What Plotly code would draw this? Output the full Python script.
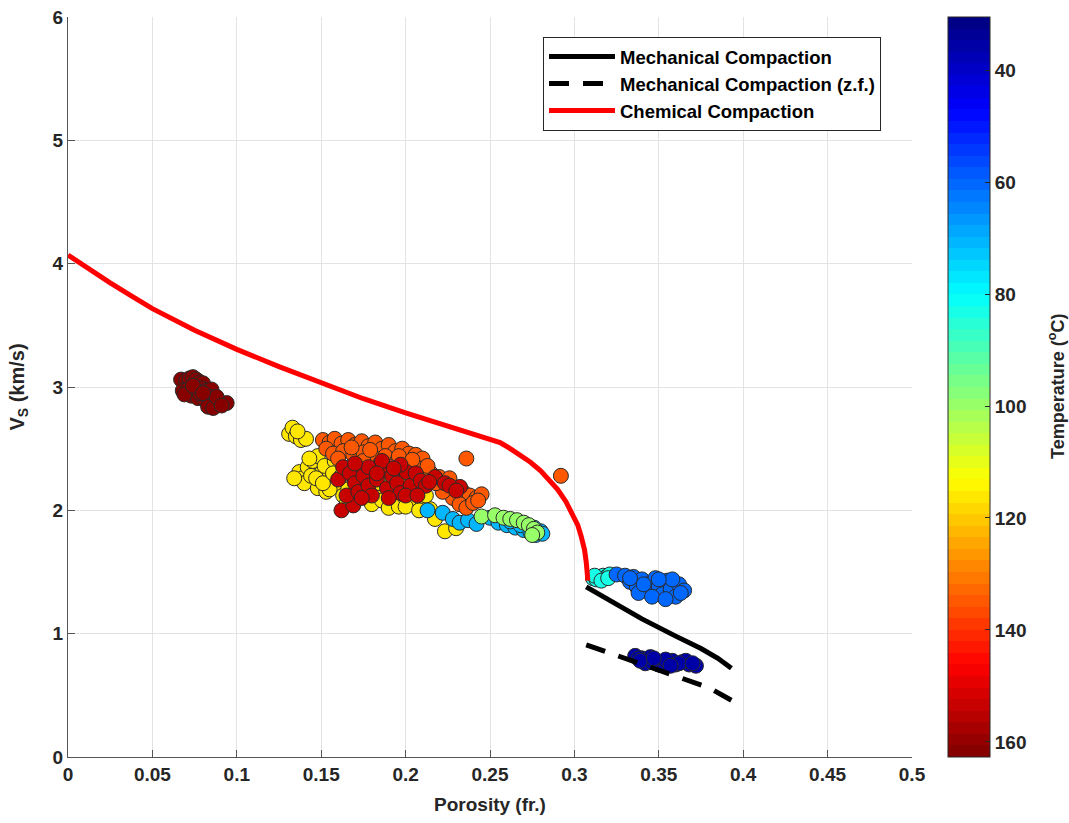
import plotly.graph_objects as go

# ---------------- compaction trends ----------------
chem_phi = [0.000, 0.0125, 0.025, 0.0375, 0.050, 0.075, 0.100, 0.125, 0.150, 0.175, 0.200, 0.225, 0.250,
            0.256, 0.262, 0.268, 0.274, 0.280, 0.285, 0.290, 0.295, 0.299, 0.302, 0.304, 0.306, 0.307,
            0.3078, 0.308]
chem_vs = [4.07, 3.955, 3.845, 3.738, 3.635, 3.46, 3.305, 3.165, 3.03, 2.905, 2.79, 2.68, 2.57,
           2.55, 2.50, 2.45, 2.39, 2.32, 2.25, 2.17, 2.07, 1.97, 1.88, 1.79, 1.68, 1.58,
           1.50, 1.43]

mech_phi = [0.307, 0.320, 0.340, 0.360, 0.375, 0.385, 0.393]
mech_vs = [1.38, 1.28, 1.12, 0.98, 0.88, 0.80, 0.72]

mech_zf_phi = [0.307, 0.330, 0.350, 0.370, 0.380, 0.393]
mech_zf_vs = [0.91, 0.80, 0.71, 0.61, 0.56, 0.46]

# ---------------- measured samples (porosity, Vs, temperature) ----------------
deep_phi = [0.067, 0.070, 0.072, 0.074, 0.076, 0.078, 0.080, 0.068, 0.071, 0.075, 0.079, 0.082, 0.085, 0.073,
            0.077, 0.081, 0.084, 0.087, 0.089, 0.094, 0.069, 0.083, 0.086, 0.078, 0.088, 0.091, 0.074, 0.080]
deep_vs = [3.06, 3.05, 3.07, 3.08, 3.06, 3.04, 3.03, 2.97, 2.98, 2.96, 2.99, 2.97, 2.98, 2.93,
           2.91, 2.90, 2.92, 2.88, 2.86, 2.87, 2.94, 2.84, 2.83, 2.95, 2.92, 2.85, 3.01, 2.95]
deep_temp = 161.5

yellow_phi = [0.131, 0.133, 0.135, 0.138, 0.141, 0.136, 0.137, 0.139, 0.140, 0.142, 0.145, 0.148, 0.150,
              0.152, 0.148, 0.153, 0.156, 0.158, 0.160, 0.163, 0.166, 0.170, 0.172, 0.176, 0.180, 0.183,
              0.186, 0.190, 0.193, 0.196, 0.200, 0.203, 0.207, 0.210, 0.2145, 0.2174, 0.2233, 0.2299,
              0.205, 0.198, 0.188, 0.175, 0.168, 0.144, 0.155, 0.143, 0.147, 0.151, 0.157, 0.162, 0.165,
              0.178, 0.185, 0.195, 0.200, 0.208, 0.212, 0.134]
yellow_vs = [2.62, 2.67, 2.60, 2.57, 2.58, 2.64, 2.31, 2.26, 2.22, 2.35, 2.40, 2.44, 2.30,
             2.36, 2.18, 2.15, 2.24, 2.40, 2.20, 2.12, 2.17, 2.09, 2.25, 2.12, 2.05, 2.17,
             2.08, 2.02, 2.12, 2.03, 2.10, 2.05, 2.15, 2.08, 2.01, 1.93, 1.83, 1.855,
             2.20, 2.25, 2.30, 2.32, 2.35, 2.28, 2.17, 2.42, 2.26, 2.22, 2.30, 2.28, 2.05,
             2.15, 2.22, 2.15, 2.03, 2.00, 2.12, 2.26]
yellow_temp = 117.0

orange_phi = [0.151, 0.155, 0.158, 0.162, 0.166, 0.170, 0.174, 0.178, 0.182, 0.186, 0.190, 0.194, 0.198,
              0.202, 0.206, 0.210, 0.153, 0.157, 0.163, 0.169, 0.175, 0.181, 0.188, 0.195, 0.200, 0.205,
              0.210, 0.215, 0.220, 0.225, 0.230, 0.234, 0.238, 0.242, 0.245, 0.228, 0.232, 0.236, 0.240,
              0.222, 0.218, 0.236, 0.292, 0.185, 0.192, 0.175, 0.160, 0.168, 0.179, 0.196, 0.204, 0.213,
              0.226, 0.243]
orange_vs = [2.57, 2.55, 2.58, 2.54, 2.57, 2.53, 2.56, 2.52, 2.55, 2.50, 2.53, 2.48, 2.50,
             2.46, 2.45, 2.42, 2.50, 2.46, 2.48, 2.45, 2.47, 2.43, 2.44, 2.40, 2.38, 2.36,
             2.34, 2.30, 2.27, 2.22, 2.18, 2.15, 2.12, 2.10, 2.13, 2.10, 2.05, 2.02, 2.06,
             2.15, 2.22, 2.42, 2.28, 2.38, 2.35, 2.40, 2.42, 2.51, 2.49, 2.44, 2.41, 2.36,
             2.26, 2.08]
orange_temp = 134.5

red_phi = [0.162, 0.169, 0.165, 0.160, 0.163, 0.167, 0.170, 0.172, 0.175, 0.178, 0.180, 0.183, 0.1868,
           0.189, 0.192, 0.195, 0.197, 0.2006, 0.203, 0.206, 0.209, 0.212, 0.2174, 0.2233, 0.2322,
           0.226, 0.230, 0.200, 0.190, 0.178, 0.170, 0.186, 0.197, 0.207, 0.174, 0.183, 0.193, 0.214]
red_vs = [2.00, 2.04, 2.12, 2.25, 2.35, 2.30, 2.22, 2.15, 2.28, 2.20, 2.12, 2.25, 2.33,
          2.18, 2.28, 2.22, 2.14, 2.31, 2.20, 2.30, 2.24, 2.20, 2.27, 2.22, 2.19,
          2.20, 2.16, 2.12, 2.10, 2.35, 2.38, 2.40, 2.37, 2.12, 2.10, 2.30, 2.34, 2.23]
red_temp = 152.5

sky_phi = [0.222, 0.228, 0.232, 0.237, 0.242, 0.250, 0.255, 0.260, 0.265, 0.270, 0.274, 0.277, 0.280,
           0.281, 0.262, 0.268, 0.276, 0.213]
sky_vs = [1.98, 1.93, 1.90, 1.92, 1.89, 1.94, 1.90, 1.88, 1.86, 1.84, 1.82, 1.80, 1.83,
          1.81, 1.91, 1.88, 1.86, 2.00]
sky_temp = 71.5

lime_phi = [0.245, 0.253, 0.258, 0.262, 0.266, 0.270, 0.273, 0.276, 0.278, 0.275]
lime_vs = [1.95, 1.96, 1.94, 1.93, 1.92, 1.90, 1.88, 1.85, 1.82, 1.80]
lime_temp = 100.0

aqua_phi = [0.311, 0.313, 0.315, 0.317, 0.319, 0.321, 0.312, 0.316, 0.320]
aqua_vs = [1.45, 1.44, 1.46, 1.47, 1.46, 1.48, 1.47, 1.43, 1.45]
aqua_temp = 83.0

blue_phi = [0.325, 0.330, 0.335, 0.333, 0.337, 0.340, 0.342, 0.345, 0.348, 0.350, 0.352, 0.355, 0.357,
            0.360, 0.362, 0.365, 0.358, 0.338, 0.346, 0.354, 0.363, 0.333, 0.341, 0.350]
blue_vs = [1.48, 1.47, 1.46, 1.42, 1.38, 1.44, 1.35, 1.41, 1.45, 1.38, 1.32, 1.43, 1.36,
           1.30, 1.40, 1.35, 1.44, 1.33, 1.30, 1.28, 1.33, 1.45, 1.40, 1.44]
blue_temp = 60.5

navy_phi = [0.336, 0.340, 0.344, 0.348, 0.352, 0.356, 0.360, 0.364, 0.368, 0.372, 0.342, 0.350, 0.358,
            0.345, 0.366, 0.338, 0.346, 0.354, 0.362, 0.370, 0.339, 0.357, 0.347]
navy_vs = [0.82, 0.80, 0.79, 0.78, 0.77, 0.76, 0.75, 0.77, 0.75, 0.74, 0.76, 0.75, 0.78,
           0.81, 0.78, 0.80, 0.77, 0.79, 0.76, 0.76, 0.78, 0.74, 0.80]
navy_temp = 35.0

clusters = [
    (deep_phi, deep_vs, deep_temp),
    (yellow_phi, yellow_vs, yellow_temp),
    (sky_phi, sky_vs, sky_temp),
    (lime_phi, lime_vs, lime_temp),
    (orange_phi, orange_vs, orange_temp),
    (red_phi, red_vs, red_temp),
    (aqua_phi, aqua_vs, aqua_temp),
    (blue_phi, blue_vs, blue_temp),
    (navy_phi, navy_vs, navy_temp),
]

temp_ticks = [40, 60, 80, 100, 120, 140, 160]
temp_min, temp_max = 30.5, 162.7

x_ticks = [0, 0.05, 0.1, 0.15, 0.2, 0.25, 0.3, 0.35, 0.4, 0.45, 0.5]
x_labels = ["0", "0.05", "0.1", "0.15", "0.2", "0.25", "0.3", "0.35", "0.4", "0.45", "0.5"]
y_ticks = [0, 1, 2, 3, 4, 5, 6]


# 64-step jet palette; the colour axis runs on -T so the bar reads hot at the bottom
def jet(t):
    def c(v):
        return max(0.0, min(1.0, v))
    return (c(1.5 - abs(4 * t - 3)), c(1.5 - abs(4 * t - 2)), c(1.5 - abs(4 * t - 1)))


n_steps = 64
colorscale = []
for i in range(n_steps):
    r, g, b = jet(1 - (i + 0.5) / n_steps)
    col = f"rgb({int(round(r * 255))},{int(round(g * 255))},{int(round(b * 255))})"
    colorscale.append([i / n_steps, col])
    colorscale.append([(i + 1) / n_steps, col])

all_phi, all_vs, all_c = [], [], []
for phi, vs, t in clusters:
    all_phi += phi
    all_vs += vs
    all_c += [-t] * len(phi)

FONT = "Liberation Sans, Arial, sans-serif"
TXT = "#262626"

fig = go.Figure()

fig.add_trace(go.Scatter(
    x=all_phi, y=all_vs, mode="markers", showlegend=False,
    marker=dict(
        size=15, color=all_c, colorscale=colorscale,
        cmin=-temp_max, cmax=-temp_min,
        line=dict(color="#2a2a2a", width=1),
        colorbar=dict(
            x=1.0427, xanchor="left", xpad=0, y=0.5, yanchor="middle", ypad=0,
            len=1, lenmode="fraction", thickness=42, thicknessmode="pixels",
            outlinecolor=TXT, outlinewidth=1,
            tickmode="array", tickvals=[-t for t in temp_ticks], ticktext=[str(t) for t in temp_ticks],
            ticks="inside", ticklen=5, tickcolor=TXT,
            tickfont=dict(family=FONT, size=19, color=TXT, weight="bold"),
        ),
    ),
))

fig.add_trace(go.Scatter(x=mech_phi, y=mech_vs, mode="lines", name="Mechanical Compaction",
                         line=dict(color="black", width=5)))
fig.add_trace(go.Scatter(x=mech_zf_phi, y=mech_zf_vs, mode="lines", name="Mechanical Compaction (z.f.)",
                         line=dict(color="black", width=5, dash="20px,14px")))
fig.add_trace(go.Scatter(x=chem_phi, y=chem_vs, mode="lines", name="Chemical Compaction",
                         line=dict(color="#ff0000", width=5)))

axis_common = dict(
    showgrid=True, gridcolor="#e3e3e3", gridwidth=1,
    showline=True, linecolor="#555555", linewidth=1, mirror=False,
    ticks="inside", ticklen=7, tickcolor="#555555",
    tickfont=dict(family=FONT, size=19, color=TXT, weight="bold"),
    zeroline=False, automargin=False,
)

fig.update_layout(
    width=1069, height=823, autosize=False,
    margin=dict(l=68, r=157, t=17, b=66),
    paper_bgcolor="white", plot_bgcolor="white",
    xaxis=dict(range=[0, 0.5], tickvals=x_ticks, ticktext=x_labels,
               title=dict(text="Porosity (fr.)", standoff=13,
                          font=dict(family=FONT, size=19, color=TXT, weight="bold")),
               **axis_common),
    yaxis=dict(range=[0, 6], tickvals=y_ticks,
               title=dict(text="V<sub>S</sub> (km/s)", standoff=22,
                          font=dict(family=FONT, size=20, color=TXT, weight="bold")),
               **axis_common),
    legend=dict(
        x=0.5628, y=0.973, xanchor="left", yanchor="top",
        bgcolor="white", bordercolor="#262626", borderwidth=1,
        font=dict(family=FONT, size=18.5, color="black", weight="bold"),
        itemwidth=66, tracegroupgap=0,
    ),
    annotations=[dict(
        text="Temperature (<sup>o</sup>C)", textangle=-90,
        xref="paper", yref="paper", x=(1056 - 68) / 844, y=0.5,
        xanchor="center", yanchor="middle", showarrow=False,
        font=dict(family=FONT, size=18, color=TXT, weight="bold"),
    )],
)

fig.write_html("out.html")
